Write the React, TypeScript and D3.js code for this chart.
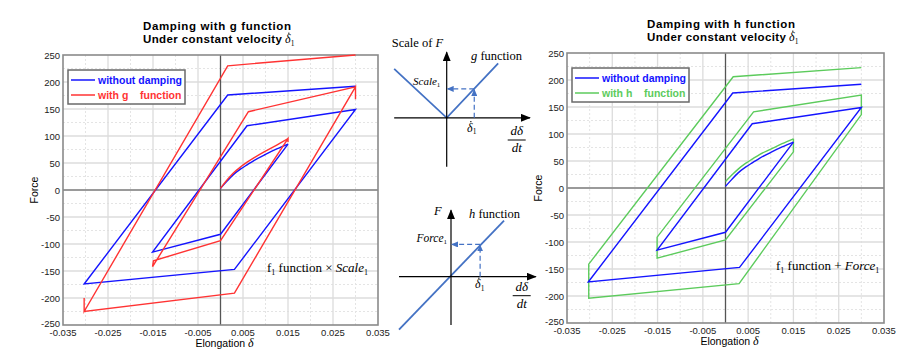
import * as d3 from 'd3'

type Pt = [number, number]

// axis ticks
const xTicks = [-0.035, -0.025, -0.015, -0.005, 0.005, 0.015, 0.025, 0.035]
const xMinor = [-0.03, -0.02, -0.01, 0.01, 0.02, 0.03]
const yTicks = [-250, -200, -150, -100, -50, 0, 50, 100, 150, 200, 250]
const yMinor = [-225, -175, -125, -75, -25, 25, 75, 125, 175, 225]

// without damping (same in both charts)
const blueStart: Pt[] = [[0, 3], [0.0014, 16], [0.0028, 28], [0.0045, 39], [0.006, 47], [0.0075, 55], [0.01, 66], [0.0125, 76], [0.015, 85]]
const blueCycle: Pt[] = [[0.015, 85], [0, -82], [-0.0151, -115], [0.0059, 119], [0.03, 149], [0.0031, -147], [-0.0303, -174], [0.0016, 176], [0.03, 192]]

// with g function (scaled)
const redStart: Pt[] = [[0, 3], [0.0014, 18], [0.0028, 31], [0.0045, 43], [0.006, 52], [0.0075, 60], [0.01, 72], [0.0125, 83], [0.015, 95]]
const redCycle: Pt[] = [[0.015, 95], [0.015, 89], [0.015, 95], [0, -94], [-0.0149, -131], [-0.0151, -142], [0.0062, 145], [0.03, 191], [0.03, 168], [0.03, 191], [0.0031, -191], [-0.0303, -225], [-0.0303, -200], [-0.0303, -225], [0.0016, 230], [0.03, 250]]

// with h function (offset)
const greenStart: Pt[] = [[0, 12], [0.0014, 24], [0.0028, 35], [0.0045, 46], [0.006, 54], [0.0075, 62], [0.01, 72], [0.0125, 82], [0.015, 91]]
const greenCycle: Pt[] = [[0.015, 91], [0.015, 67], [0, -96], [-0.0151, -130], [-0.0151, -91], [0.0062, 141], [0.03, 172], [0.03, 136], [0.003, -177], [-0.0302, -204], [-0.0302, -141], [0.0017, 206], [0.03, 223]]

// schematic functions (velocity -> scale / force)
const gFunc: Pt[] = [[-1.01, 1.0], [0, 0], [0.99, 1.11]]
const gPoint: Pt = [0.53, 0.59]
const hFunc: Pt[] = [[-1, -1.02], [1.02, 1.08]]
const hPoint: Pt = [0.56, 0.62]

const BLUE = '#1414ff'
const RED = '#ff3333'
const GREEN = '#5ccb5c'
const SKETCH = '#4472c4'
const SANS = 'Liberation Sans, Arial, sans-serif'
const SERIF = 'Liberation Serif, Times New Roman, serif'

const DeltaDot = ({ x, y, size }: { x: number; y: number; size: number }) => (
  <g>
    <text x={x} y={y} fontFamily={SERIF} fontStyle="italic" fontSize={size}>δ</text>
    <circle cx={x + size * 0.32} cy={y - size * 0.82} r={0.7} fill="#000" />
    <text x={x + size * 0.48} y={y + size * 0.22} fontFamily={SERIF} fontSize={size * 0.62}>1</text>
  </g>
)

const Fraction = ({ cx, y }: { cx: number; y: number }) => (
  <g fontFamily={SERIF} fontStyle="italic" fontSize={13} textAnchor="middle">
    <text x={cx} y={y}>dδ</text>
    <line x1={cx - 9} x2={cx + 9} y1={y + 5} y2={y + 5} stroke="#000" strokeWidth={1} />
    <text x={cx} y={y + 17}>dt</text>
  </g>
)

type Series = { start: Pt[]; cycle: Pt[]; color: string }

function Panel(props: {
  x0: number; x1: number; y0: number; y1: number
  title: string; letter: string; dampColor: string
  series: Series[]; note: 'g' | 'h'
}) {
  const { x0, x1, y0, y1, title, letter, dampColor, series, note } = props
  const x = d3.scaleLinear().domain([-0.035, 0.035]).range([x0, x1])
  const y = d3.scaleLinear().domain([-250, 250]).range([y1, y0])
  const line = d3.line<Pt>().x(d => x(d[0])).y(d => y(d[1]))
  const curve = d3.line<Pt>().x(d => x(d[0])).y(d => y(d[1])).curve(d3.curveMonotoneX)
  const tx = x0 + 80
  const lx = x0 + 5
  const ly = y0 + 15

  return (
    <g>
      <text x={tx} y={y0 - 25} fontFamily={SANS} fontWeight="bold" fontSize={11.5} textLength={148} lengthAdjust="spacing">{title}</text>
      <text x={tx} y={y0 - 12} fontFamily={SANS} fontWeight="bold" fontSize={11.5} textLength={139} lengthAdjust="spacing">Under constant velocity</text>
      <DeltaDot x={tx + 142} y={y0 - 12} size={12} />

      <rect x={x0} y={y0} width={x1 - x0} height={y1 - y0} fill="#fff" />
      {xMinor.map(t => (
        <line key={'xm' + t} x1={x(t)} x2={x(t)} y1={y0} y2={y1} stroke="#e4e4e4" strokeDasharray="2,2" />
      ))}
      {yMinor.map(t => (
        <line key={'ym' + t} x1={x0} x2={x1} y1={y(t)} y2={y(t)} stroke="#e4e4e4" strokeDasharray="2,2" />
      ))}
      {xTicks.slice(1, -1).map(t => (
        <line key={'xg' + t} x1={x(t)} x2={x(t)} y1={y0} y2={y1} stroke="#dcdcdc" strokeWidth={1.3} />
      ))}
      {yTicks.slice(1, -1).map(t => (
        <line key={'yg' + t} x1={x0} x2={x1} y1={y(t)} y2={y(t)} stroke="#dcdcdc" strokeWidth={1.3} />
      ))}
      <line x1={x0} x2={x1} y1={y(0)} y2={y(0)} stroke="#808080" strokeWidth={1.5} />
      <line x1={x(0)} x2={x(0)} y1={y0} y2={y1} stroke="#555" strokeWidth={1.3} />
      <rect x={x0} y={y0} width={x1 - x0} height={y1 - y0} fill="none" stroke="#8a8a8a" strokeWidth={1.6} />

      {series.map((s, i) => (
        <g key={i} fill="none" stroke={s.color} strokeWidth={1.4} strokeLinejoin="miter">
          <path d={curve(s.start) ?? ''} />
          <path d={line(s.cycle) ?? ''} />
        </g>
      ))}

      {yTicks.map(t => (
        <text key={'yl' + t} x={x0 - 3} y={y(t) + (t === -250 ? 2 : 3.5)} textAnchor="end" fontFamily={SANS} fontSize={9.5} fill="#222">{String(t)}</text>
      ))}
      {xTicks.map(t => (
        <text key={'xl' + t} x={x(t)} y={y1 + 10.5} textAnchor="middle" fontFamily={SANS} fontSize={9.5} fill="#222">{String(t)}</text>
      ))}
      <text transform={`translate(${x0 - 25},${(y0 + y1) / 2}) rotate(-90)`} textAnchor="middle" fontFamily={SANS} fontSize={10.5}>Force</text>
      <text x={x(0) + 4} y={y1 + 22} textAnchor="middle" fontFamily={SANS} fontSize={10.5}>
        Elongation <tspan fontFamily={SERIF} fontStyle="italic" fontSize={12}>δ</tspan>
      </text>

      <rect x={lx} y={y0 + 15} width={117} height={34} fill="#fff" stroke="#6a6a6a" strokeWidth={1.5} />
      <line x1={lx + 3} x2={lx + 27} y1={ly + 10} y2={ly + 10} stroke={BLUE} strokeWidth={1.5} />
      <text x={lx + 30} y={ly + 14} fontFamily={SANS} fontWeight="bold" fontSize={10.5} fill={BLUE}>without damping</text>
      <line x1={lx + 3} x2={lx + 27} y1={ly + 25} y2={ly + 25} stroke={dampColor} strokeWidth={1.5} />
      <text x={lx + 30} y={ly + 29} fontFamily={SANS} fontWeight="bold" fontSize={10.5} fill={dampColor}>with {letter}</text>
      <text x={lx + 72} y={ly + 29} fontFamily={SANS} fontWeight="bold" fontSize={10.5} fill={dampColor}>function</text>

      <text x={note === 'g' ? x0 + 204 : x0 + 209} y={y0 + 217} fontFamily={SERIF} fontSize={13}>
        f<tspan fontSize={8} dy={3}>1</tspan><tspan dy={-3}> function</tspan>
        {note === 'g' ? (
          <>
            <tspan> × </tspan><tspan fontStyle="italic">Scale</tspan><tspan fontSize={8} dy={3}>1</tspan>
          </>
        ) : (
          <>
            <tspan> + </tspan><tspan fontStyle="italic">Force</tspan><tspan fontSize={8} dy={3}>1</tspan>
          </>
        )}
      </text>
    </g>
  )
}

function GDiagram() {
  const x = d3.scaleLinear().domain([0, 1]).range([446.7, 498.7])
  const y = d3.scaleLinear().domain([0, 1]).range([117.8, 68.8])
  const line = d3.line<Pt>().x(d => x(d[0])).y(d => y(d[1]))
  return (
    <g>
      <path d={line(gFunc) ?? ''} fill="none" stroke={SKETCH} strokeWidth={1.8} />
      <line x1={x(-1.01)} x2={x(1.6)} y1={y(0)} y2={y(0)} stroke="#000" strokeWidth={1.2} markerEnd="url(#arrowK)" />
      <line x1={x(0)} x2={x(0)} y1={y(-1.0)} y2={y(1.34)} stroke="#000" strokeWidth={1.2} markerEnd="url(#arrowK)" />
      <line x1={x(gPoint[0])} x2={x(gPoint[0])} y1={y(0)} y2={y(gPoint[1]) + 1} stroke={SKETCH} strokeWidth={1.2} strokeDasharray="5,3" markerEnd="url(#arrowB)" />
      <line x1={x(gPoint[0])} x2={x(0) + 1} y1={y(gPoint[1])} y2={y(gPoint[1])} stroke={SKETCH} strokeWidth={1.2} strokeDasharray="5,3" markerEnd="url(#arrowB)" />
      <text x={391.7} y={46.7} fontFamily={SERIF} fontSize={12.5}>Scale of <tspan fontStyle="italic">F</tspan></text>
      <text x={471} y={60} fontFamily={SERIF} fontSize={12.5}><tspan fontStyle="italic">g</tspan> function</text>
      <text x={413} y={85} fontFamily={SERIF} fontStyle="italic" fontSize={11}>Scale<tspan fontStyle="normal" fontSize={7} dy={2}>1</tspan></text>
      <DeltaDot x={467} y={131.5} size={12} />
      <Fraction cx={516.7} y={135} />
    </g>
  )
}

function HDiagram() {
  const x = d3.scaleLinear().domain([0, 1]).range([451, 503])
  const y = d3.scaleLinear().domain([0, 1]).range([276.7, 224.7])
  const line = d3.line<Pt>().x(d => x(d[0])).y(d => y(d[1]))
  return (
    <g>
      <path d={line(hFunc) ?? ''} fill="none" stroke={SKETCH} strokeWidth={1.8} />
      <line x1={x(-1.0)} x2={x(1.63)} y1={y(0)} y2={y(0)} stroke="#000" strokeWidth={1.2} markerEnd="url(#arrowK)" />
      <line x1={x(0)} x2={x(0)} y1={y(-0.93)} y2={y(1.28)} stroke="#000" strokeWidth={1.2} markerEnd="url(#arrowK)" />
      <line x1={x(hPoint[0])} x2={x(hPoint[0])} y1={y(0)} y2={y(hPoint[1]) + 1} stroke={SKETCH} strokeWidth={1.2} strokeDasharray="5,3" markerEnd="url(#arrowB)" />
      <line x1={x(hPoint[0])} x2={x(0) + 1} y1={y(hPoint[1])} y2={y(hPoint[1])} stroke={SKETCH} strokeWidth={1.2} strokeDasharray="5,3" markerEnd="url(#arrowB)" />
      <text x={434} y={215} fontFamily={SERIF} fontStyle="italic" fontSize={12.5}>F</text>
      <text x={469} y={217.7} fontFamily={SERIF} fontSize={12.5}><tspan fontStyle="italic">h</tspan> function</text>
      <text x={416.5} y={241.7} fontFamily={SERIF} fontStyle="italic" fontSize={11.5}>Force<tspan fontStyle="normal" fontSize={7} dy={2}>1</tspan></text>
      <DeltaDot x={475} y={288} size={12} />
      <Fraction cx={521.7} y={290.7} />
    </g>
  )
}

export default function App() {
  return (
    <svg width={916} height={364} style={{ position: 'absolute', left: 0, top: 0, background: '#fff' }}>
      <defs>
        <marker id="arrowK" markerUnits="userSpaceOnUse" markerWidth={10} markerHeight={8} refX={9} refY={4} orient="auto">
          <path d="M0,0 L10,4 L0,8 z" fill="#000" />
        </marker>
        <marker id="arrowB" markerUnits="userSpaceOnUse" markerWidth={7} markerHeight={6} refX={6} refY={3} orient="auto">
          <path d="M0,0 L7,3 L0,6 z" fill={SKETCH} />
        </marker>
      </defs>
      <Panel
        x0={63} x1={378} y0={55} y1={325}
        title="Damping with g function" letter="g" dampColor={RED}
        series={[{ start: blueStart, cycle: blueCycle, color: BLUE }, { start: redStart, cycle: redCycle, color: RED }]}
        note="g"
      />
      <Panel
        x0={567} x1={884} y0={53} y1={323}
        title="Damping with h function" letter="h" dampColor={GREEN}
        series={[{ start: greenStart, cycle: greenCycle, color: GREEN }, { start: blueStart, cycle: blueCycle, color: BLUE }]}
        note="h"
      />
      <GDiagram />
      <HDiagram />
    </svg>
  )
}
